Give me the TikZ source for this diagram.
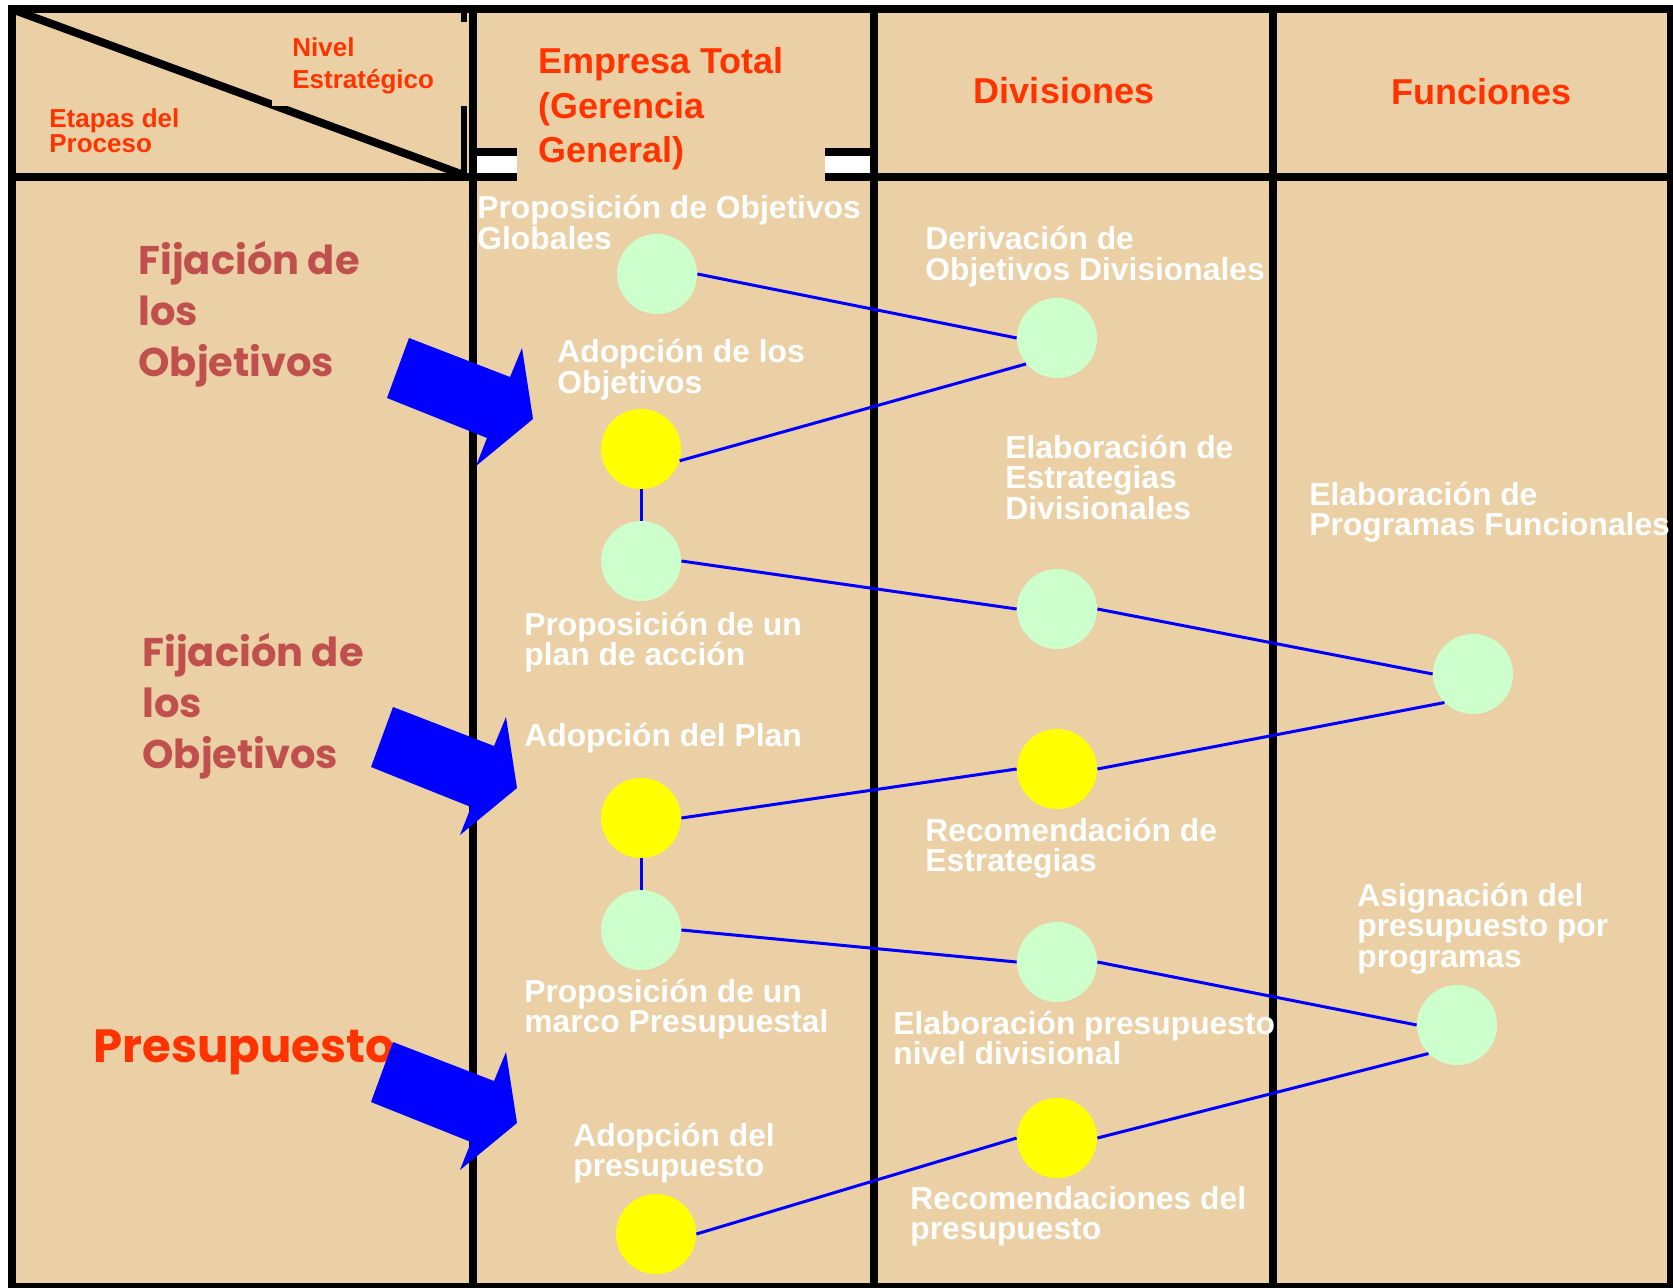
\documentclass[tikz,border=0pt]{standalone}
\usepackage{fontspec}
\setmainfont{Liberation Sans}
\newfontfamily\comic{Poppins}
\usepackage{tikz}

\definecolor{madera}{RGB}{235,208,165}
\definecolor{rojo}{RGB}{255,51,0}
\definecolor{teja}{RGB}{192,80,77}
\definecolor{verde}{RGB}{204,255,204}
\definecolor{amarillo}{RGB}{255,255,0}
\definecolor{azul}{RGB}{0,0,255}

\begin{document}
\begin{tikzpicture}[x=0.5pt,y=-0.5pt,node distance = 56pt,
  meta/.style={circle,fill=verde,inner sep=0pt,minimum size=40pt},
  adop/.style={circle,fill=amarillo,inner sep=0pt,minimum size=40pt},
  etiq/.style={anchor=base west,inner sep=0pt,align=left,text=white,font=\fontsize{15.9}{15.25}\selectfont\bfseries},
  titulo/.style={inner sep=0pt,align=left,text=rojo,font=\fontsize{18}{22.25}\selectfont\bfseries},
  fase/.style={anchor=base west,inner sep=0pt,align=left,text=teja,font=\comic\fontsize{20}{25.5}\selectfont\bfseries},
  enlace/.style={azul,line width=1.5pt},
  marco/.style={line width=4pt}]
\useasboundingbox (0,0) rectangle (1673,1288);
\fill[madera] (11.5,9.5) rectangle (1671,1287);

% tabla
\draw[marco] (11.5,9.5) rectangle (1671,1287);
\draw[marco] (11.5,177.5) -- (1671,177.5);
\foreach \x in {473,873.5,1273}
  \draw[marco] (\x,9.5) -- (\x,1287);
\draw[line width=3pt] (464,9.5) -- (464,177.5);
\draw[marco] (473,152) -- (873.5,152);
\fill[white] (477,156.5) rectangle (869.5,173.5);
\draw[marco] (14,10) -- (461,174);
\fill[madera] (272,22) rectangle (468,106);
\fill[madera] (517,27) rectangle (825,182);

% cabecera
\node[titulo,anchor=base west] (empresa) at (538,163) {Empresa Total\\(Gerencia\\General)};
\node[titulo,anchor=base] (divisiones) at (1064,104) {Divisiones};
\node[titulo,anchor=base] (funciones) at (1481,105) {Funciones};
\node[anchor=base west,inner sep=0pt,align=left,text=rojo,font=\fontsize{13}{16}\selectfont\bfseries] (nivel) at (292,89) {Nivel\\Estratégico};
\node[anchor=base west,inner sep=0pt,align=left,text=rojo,font=\fontsize{13}{12.5}\selectfont\bfseries] (etapas) at (49,153) {Etapas del\\Proceso};

% etapas
\node[fase] (fase1) at (138,377) {Fijación de\\los\\Objetivos};
\node[fase] (fase2) at (142,768) {Fijación de\\los\\Objetivos};
\node[fase,text=rojo,font=\comic\fontsize{23.3}{23.3}\selectfont\bfseries] (fase3) at (93,1062) {Presupuesto};

% textos
\node[etiq] (t1) at (477,249.5) {Proposición de Objetivos\\Globales};
\node[etiq] (t2) at (925,280.5) {Derivación de\\Objetivos Divisionales};
\node[etiq] (t3) at (557,393.5) {Adopción de los\\Objetivos};
\node[etiq] (t4) at (1005,519) {Elaboración de\\Estrategias\\Divisionales};
\node[etiq] (t5) at (1309,535.5) {Elaboración de\\Programas Funcionales};
\node[etiq] (t6) at (524,665.5) {Proposición de un\\plan de acción};
\node[etiq] (t7) at (524,746) {Adopción del Plan};
\node[etiq] (t8) at (925,871.5) {Recomendación de\\Estrategias};
\node[etiq] (t9) at (1357,967) {Asignación del\\presupuesto por\\programas};
\node[etiq] (t10) at (524,1032.5) {Proposición de un\\marco Presupuestal};
\node[etiq] (t11) at (893,1064.5) {Elaboración presupuesto\\nivel divisional};
\node[etiq] (t12) at (573,1176.5) {Adopción del\\presupuesto};
\node[etiq] (t13) at (910,1239.5) {Recomendaciones del\\presupuesto};

% flechas
\foreach \p in {(409,338),(393,707),(393,1042)}
  \fill[azul,shift={\p}] (0,0) -- (101,39) -- (113,10) -- (124,81)
    -- (67,128) -- (78,100) -- (-22,60) -- cycle;

% nodos
\node[meta] (c1) at (657,274) {};
\node[meta] (c2) at (1057,338) {};
\node[adop] (c3) at (641,449) {};
\node[meta] (c4) [below of = c3] {};
\node[meta] (c5) at (1057,609) {};
\node[meta] (c6) at (1473,674) {};
\node[adop] (c7) at (1057,769) {};
\node[adop] (c8) at (641,818) {};
\node[meta] (c9) [below of = c8] {};
\node[meta] (c10) at (1057,962) {};
\node[meta] (c11) at (1457,1025) {};
\node[adop] (c12) at (1057,1138) {};
\node[adop] (c13) at (656,1234) {};

\path[enlace] (c1.east) edge (c2.west)
    (c2.220) edge (c3.343)
    (c3.south) edge (c4.north)
    (c4.east) edge (c5.west)
    (c5.east) edge (c6.west)
    (c6.south west) edge (c7.east)
    (c7.west) edge (c8.east)
    (c8.south) edge (c9.north)
    (c9.east) edge (c10.west)
    (c10.east) edge (c11.west)
    (c11.south west) edge (c12.east)
    (c12.west) edge (c13.east);
\end{tikzpicture}
\end{document}
